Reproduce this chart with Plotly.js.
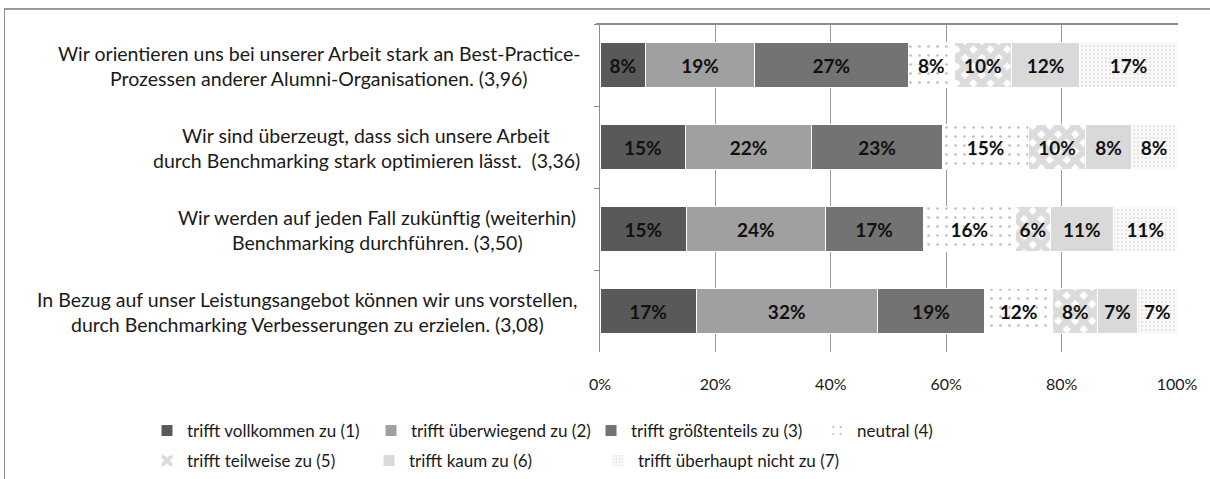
<!DOCTYPE html>
<html>
<head>
<meta charset="utf-8">
<script src="https://cdn.plot.ly/plotly-3.0.1.min.js"></script>
<style>
  html, body { margin: 0; padding: 0; background: #fff; }
  #chart { position: absolute; left: 0; top: 0; width: 1210px; height: 479px; }
  #frame { position: absolute; left: 4px; top: 8px; width: 1210px; height: 480px;
           border-left: 1px solid #8c8c8c; border-top: 2px solid #9a9a9a; pointer-events: none; }
</style>
</head>
<body>
<div id="chart"></div>
<div id="frame"></div>
<script>
// ---- data ----
const categories = [
  "Wir orientieren uns bei unserer Arbeit stark an Best-Practice-<br>Prozessen anderer Alumni-Organisationen. (3,96)",
  "Wir sind überzeugt, dass sich unsere Arbeit<br>durch Benchmarking stark optimieren lässt.  (3,36)",
  "Wir werden auf jeden Fall zukünftig (weiterhin)<br>Benchmarking durchführen. (3,50)",
  "In Bezug auf unser Leistungsangebot können wir uns vorstellen,<br>durch Benchmarking Verbesserungen zu erzielen. (3,08)"
];
const seriesNames = [
  "trifft vollkommen zu (1)",
  "trifft überwiegend zu (2)",
  "trifft größtenteils zu (3)",
  "neutral (4)",
  "trifft teilweise zu (5)",
  "trifft kaum zu (6)",
  "trifft überhaupt nicht zu (7)"
];
const s1 = [8, 15, 15, 17];
const s2 = [19, 22, 24, 32];
const s3 = [27, 23, 17, 19];
const s4 = [8, 15, 16, 12];
const s5 = [10, 10, 6, 8];
const s6 = [12, 8, 11, 7];
const s7 = [17, 8, 11, 7];
const seriesValues = [s1, s2, s3, s4, s5, s6, s7];
const xTickVals = [0, 20, 40, 60, 80, 100];
const xTickText = ["0%", "20%", "40%", "60%", "80%", "100%"];

// ---- styles ----
const styles = [
  {color: "#595959"},
  {color: "#a0a0a0"},
  {color: "#737373"},
  {color: "#ffffff", pattern: {shape: ".", fgcolor: "#7a7a7a", bgcolor: "#ffffff", size: 9, solidity: 0.07, fillmode: "overlay"}},
  {color: "#ffffff", pattern: {shape: "x", fgcolor: "#b8b8b8", bgcolor: "#ffffff", size: 12, solidity: 0.75, fillmode: "overlay"}},
  {color: "#d9d9d9"},
  {color: "#ffffff", pattern: {shape: ".", fgcolor: "#d0d0d0", bgcolor: "#fafafa", size: 4, solidity: 0.3, fillmode: "overlay"}}
];

const legendIds = ["legend", "legend2", "legend3", "legend4", "legend5", "legend6", "legend7"];

const traces = seriesValues.map((vals, i) => ({
  type: "bar",
  orientation: "h",
  name: seriesNames[i],
  y: categories,
  x: vals,
  text: vals.map(v => v + "%"),
  textposition: "inside",
  insidetextanchor: "middle",
  textangle: 0,
  constraintext: "none",
  textfont: {family: "Lato", size: 19, color: "#111111", weight: "bold"},
  marker: Object.assign({line: {color: "#ffffff", width: 1}}, styles[i]),
  legend: legendIds[i],
  hoverinfo: "skip"
}));

// category labels: each line drawn as its own centred text (line centres in px)
const labelCenters = [319, 366, 377, 307];
const plotLeft = 600, plotWidth = 577;
const annotations = [];
categories.forEach((c, i) => {
  const lines = c.split("<br>");
  lines.forEach((ln, j) => {
    annotations.push({
      xref: "paper", yref: "y",
      x: (labelCenters[i] - plotLeft) / plotWidth, y: c,
      xanchor: "center", yanchor: "middle",
      yshift: j === 0 ? 12 : -13,
      text: ln, showarrow: false,
      font: {family: "Lato", size: 19.5, color: "#1a1a1a"}
    });
  });
});

// legend entry positions (text start x, row top y) in px
const legendTextX = [187, 411, 631, 857, 187, 409, 638];
const legendTopY = [413, 413, 413, 413, 443, 443, 443];
const layoutLegends = {};
legendIds.forEach((id, i) => {
  layoutLegends[id] = {
    orientation: "h",
    xref: "container", yref: "container",
    xanchor: "left", yanchor: "top",
    x: (legendTextX[i] - 40) / 1210,
    y: 1 - legendTopY[i] / 479,
    itemwidth: 30,
    bgcolor: "rgba(0,0,0,0)",
    font: {family: "Lato", size: 17, color: "#1a1a1a"}
  };
});

const layout = Object.assign({
  width: 1210, height: 479,
  margin: {l: 600, r: 33, t: 24, b: 127, pad: 0},
  paper_bgcolor: "#ffffff",
  plot_bgcolor: "#ffffff",
  barmode: "stack",
  barnorm: "percent",
  bargap: 0.45,
  showlegend: true,
  xaxis: {
    range: [0, 100],
    tickvals: xTickVals,
    ticktext: xTickText,
    showgrid: true, gridcolor: "#9a9a9a", gridwidth: 1,
    zeroline: false, showline: false,
    ticks: "", ticklabelstandoff: 21,
    tickfont: {family: "Lato", size: 16, color: "#1a1a1a"},
    fixedrange: true
  },
  yaxis: {
    type: "category",
    autorange: "reversed",
    showticklabels: false,
    showgrid: false, zeroline: false,
    showline: true, linecolor: "#8c8c8c", linewidth: 1,
    ticks: "outside", tickson: "boundaries", ticklen: 5, tickcolor: "#8c8c8c",
    fixedrange: true
  },
  shapes: [
    {type: "line", xref: "paper", yref: "paper", x0: -0.007, x1: 1.002, y0: 1, y1: 1,
     line: {color: "#8c8c8c", width: 2}}
  ],
  annotations: annotations
}, layoutLegends);

Plotly.newPlot("chart", traces, layout, {displayModeBar: false, staticPlot: true});
</script>
</body>
</html>
